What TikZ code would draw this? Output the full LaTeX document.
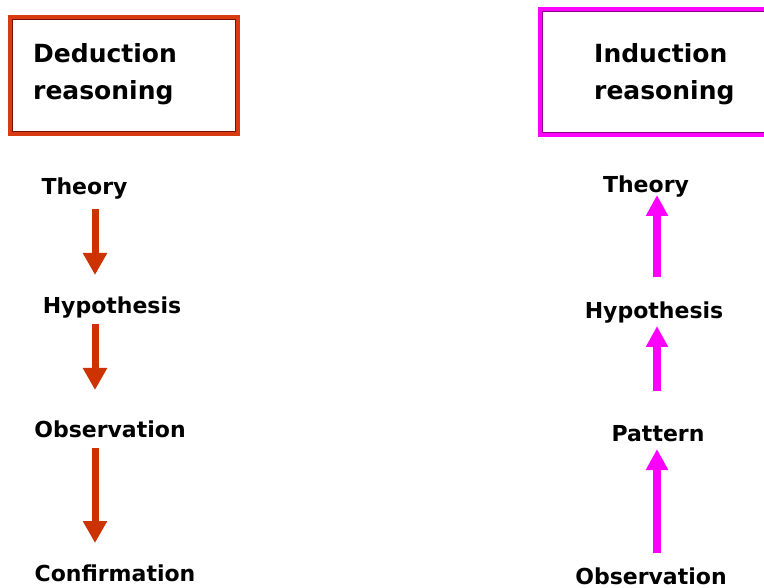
\documentclass[tikz,border=0pt]{standalone}
\usepackage{fontspec}
\setmainfont{DejaVu Sans}
\usetikzlibrary{arrows.meta}

\definecolor{dedframe}{HTML}{D83A12}
\definecolor{dedinner}{HTML}{7A1000}
\definecolor{dedarrowc}{HTML}{CC3300}
\definecolor{indframe}{HTML}{FF00FF}
\definecolor{indinner}{HTML}{8A008A}
\definecolor{indarrowc}{HTML}{FF00FF}

\tikzset{
  % a two-line heading; its base anchor sits on the last line
  title/.style={inner sep=0pt, anchor=base west, align=left,
    font=\fontsize{25}{37}\selectfont\bfseries},
  stage/.style={inner sep=0pt, anchor=base,
    font=\fontsize{22}{26}\selectfont\bfseries},
  dedarrow/.style={draw=dedarrowc, line width=7pt,
    -{Triangle[length=22pt,width=23pt]}},
  indarrow/.style={draw=indarrowc, line width=8pt,
    -{Triangle[length=21pt,width=21pt]}},
}

\begin{document}
\begin{tikzpicture}[x=1pt, y=-1pt]
  \useasboundingbox (0,0) rectangle (764,588);

  % ---- frames around the two headings ----
  \draw[dedframe, line width=5pt] (10.5,17.5) rectangle (237.5,133.5);
  \draw[dedinner, line width=1.8pt] (12.5,19.5) rectangle (235.5,131.5);
  \draw[indframe, line width=5pt] (540.5,9.5) rectangle (790,134.5);
  \draw[indinner, line width=1.8pt] (542.5,11.5) rectangle (788,132.5);

  % ---- headings ----
  \node[title] (dedtitle) at (33,100) {Deduction\\reasoning};
  \node[title] (indtitle) at (594,100) {Induction\\reasoning};

  % ---- deduction: top-down chain ----
  \node[stage] (dtheory) at (84.5,195) {Theory};
  \node[stage] (dhyp)    at (112,314) {Hypothesis};
  \node[stage] (dobs)    at (110,437) {Observation};
  \node[stage] (dconf)   at (115,581) {Confirmation};

  \coordinate (d1s) at (95,209);
  \coordinate (d1e) at (95,275);
  \coordinate (d2s) at (95,324);
  \coordinate (d2e) at (95,390);
  \coordinate (d3s) at (95,448);
  \coordinate (d3e) at (95,543);
  \draw[dedarrow] (d1s) -- (d1e);
  \draw[dedarrow] (d2s) -- (d2e);
  \draw[dedarrow] (d3s) -- (d3e);

  % ---- induction: bottom-up chain ----
  \node[stage] (itheory) at (646,193) {Theory};
  \node[stage] (ihyp)    at (654,319) {Hypothesis};
  \node[stage] (ipat)    at (658,441) {Pattern};
  \node[stage] (iobs)    at (651,584) {Observation};

  \coordinate (i1s) at (657,277);
  \coordinate (i1e) at (657,195);
  \coordinate (i2s) at (657,391);
  \coordinate (i2e) at (657,326);
  \coordinate (i3s) at (657,553);
  \coordinate (i3e) at (657,449);
  \draw[indarrow] (i1s) -- (i1e);
  \draw[indarrow] (i2s) -- (i2e);
  \draw[indarrow] (i3s) -- (i3e);
\end{tikzpicture}
\end{document}
